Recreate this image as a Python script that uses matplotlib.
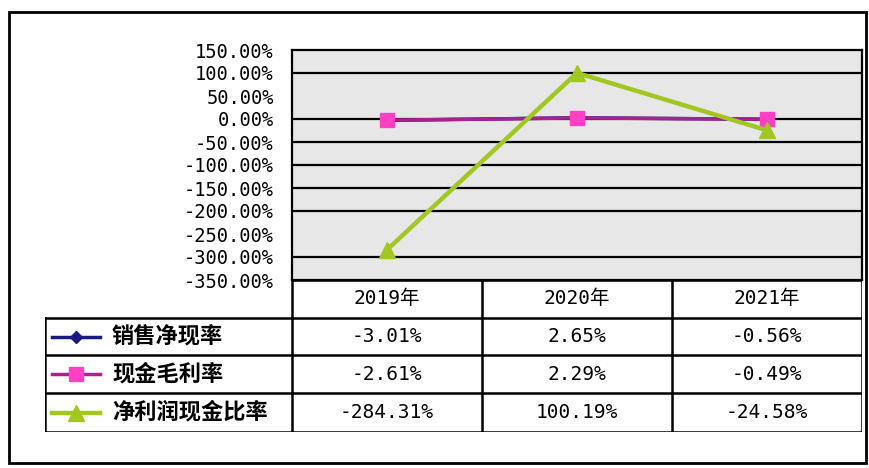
import matplotlib
matplotlib.use("Agg")
import matplotlib.pyplot as plt
from matplotlib.patches import Rectangle
from matplotlib.lines import Line2D

plt.rcParams['font.family'] = ['Noto Sans CJK SC', 'DejaVu Sans']
MONO = ['DejaVu Sans Mono', 'Noto Sans CJK SC']

categories = ["2019年", "2020年", "2021年"]
series_names = ["销售净现率", "现金毛利率", "净利润现金比率"]
sales_cash = [-3.01, 2.65, -0.56]
cash_margin = [-2.61, 2.29, -0.49]
profit_cash = [-284.31, 100.19, -24.58]
table_text = [["-3.01%", "2.65%", "-0.56%"],
              ["-2.61%", "2.29%", "-0.49%"],
              ["-284.31%", "100.19%", "-24.58%"]]
yticks = [150, 100, 50, 0, -50, -100, -150, -200, -250, -300, -350]
gridlines = [100, 0, -50, -100, -150, -200, -300]

colors = ["#1a1a80", "#a8228c", "#a2c722"]
marker_faces = ["#1a1a80", "#ff3fc4", "#a2c722"]
markers = ["D", "s", "^"]
msizes = [6, 10, 11]
lws = [2.5, 2.5, 3.2]

W, H = 869, 468
fig = plt.figure(figsize=(W / 100, H / 100), dpi=100)
fig.patch.set_facecolor("white")

def fx(px):
    return px / W

def fy(py):
    return 1 - py / H

# outer frame
fig.add_artist(Rectangle((fx(9), fy(463)), fx(866) - fx(9), fy(12) - fy(463),
                         transform=fig.transFigure, fill=False, lw=2.0, ec="black"))

# plot area
pl, pr, pt, pb = 292, 862, 50, 280
ax = fig.add_axes([fx(pl), fy(pb), fx(pr) - fx(pl), fy(pt) - fy(pb)])
ax.set_facecolor("#e7e7e7")
ax.set_xlim(-0.5, 2.5)
ax.set_ylim(-350, 150)
for y in gridlines:
    ax.axhline(y, color="black", lw=1.6, zorder=1)
x = list(range(len(categories)))
for vals, c, mf, m, ms, lw_ in zip([sales_cash, cash_margin, profit_cash], colors, marker_faces,
                                   markers, msizes, lws):
    ax.plot(x, vals, color=c, lw=lw_, marker=m, markersize=ms, markerfacecolor=mf,
            markeredgecolor=mf, zorder=3, clip_on=False)
ax.set_yticks(yticks)
ax.set_yticklabels([f"{v:.2f}%" for v in yticks], fontsize=13.5, family=MONO)
ax.set_xticks([])
ax.tick_params(axis="y", length=0, pad=13)
for s in ax.spines.values():
    s.set_linewidth(1.6)
    s.set_color("black")

# table
tl, tr, tt, tb = 45, 862, 280, 432
tax = fig.add_axes([fx(tl), fy(tb), fx(tr) - fx(tl), fy(tt) - fy(tb)])
tax.set_xlim(tl, tr)
tax.set_ylim(tb, tt)
tax.axis("off")
col_edges = [pl, pl + 190, pl + 380, pr]
row_edges = [280, 318, 355, 393, 432]
lw = 1.8
tax.plot([pl, pr], [row_edges[0], row_edges[0]], color="black", lw=lw)
for r in row_edges[1:]:
    tax.plot([tl, pr], [r, r], color="black", lw=lw)
for c in col_edges:
    tax.plot([c, c], [row_edges[0], row_edges[-1]], color="black", lw=lw)
tax.plot([tl, tl], [row_edges[1], row_edges[-1]], color="black", lw=lw)

for j, cat in enumerate(categories):
    cx = (col_edges[j] + col_edges[j + 1]) / 2
    tax.text(cx, (row_edges[0] + row_edges[1]) / 2, cat, ha="center", va="center",
             fontsize=14, family=MONO)
for i, name in enumerate(series_names):
    cy = (row_edges[i + 1] + row_edges[i + 2]) / 2
    tax.add_line(Line2D([52, 100], [cy, cy], color=colors[i], lw=lws[i]))
    tax.plot([76], [cy], marker=markers[i], markersize=msizes[i], color=marker_faces[i], lw=0)
    tax.text(112, cy, name, ha="left", va="center", fontsize=16, fontweight="bold")
    for j in range(len(categories)):
        cx = (col_edges[j] + col_edges[j + 1]) / 2
        tax.text(cx, cy, table_text[i][j], ha="center", va="center", fontsize=14, family=MONO)

fig.savefig("out.png", dpi=100)
